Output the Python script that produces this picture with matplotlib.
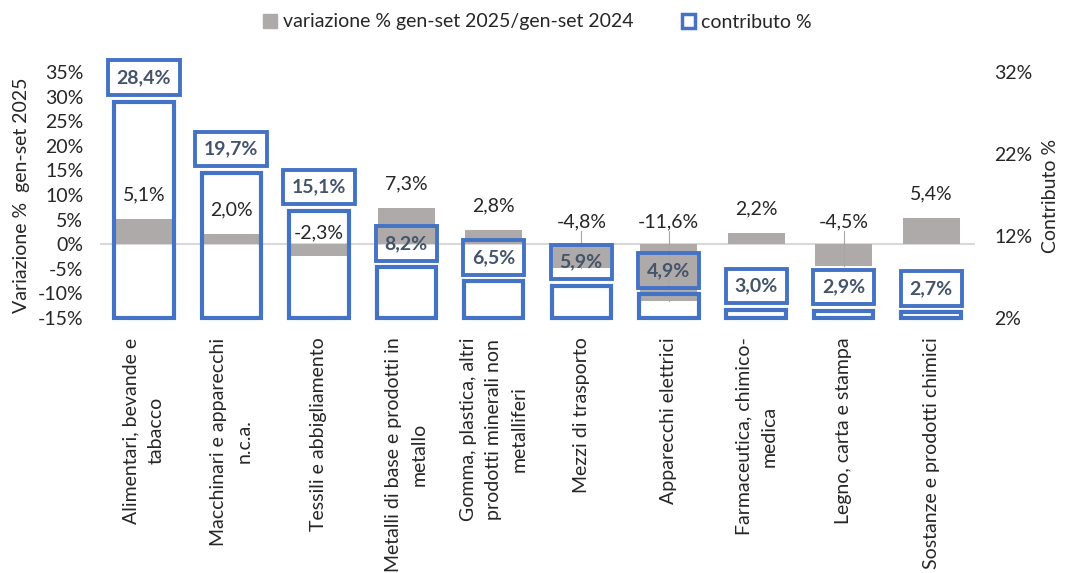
import matplotlib
matplotlib.use("Agg")
import matplotlib.pyplot as plt
from matplotlib.patches import Patch
import numpy as np

categories = [
    "Alimentari, bevande e\ntabacco",
    "Macchinari e apparecchi\nn.c.a.",
    "Tessili e abbigliamento",
    "Metalli di base e prodotti in\nmetallo",
    "Gomma, plastica, altri\nprodotti minerali non\nmetalliferi",
    "Mezzi di trasporto",
    "Apparecchi elettrici",
    "Farmaceutica, chimico-\nmedica",
    "Legno, carta e stampa",
    "Sostanze e prodotti chimici",
]
variazione = [5.1, 2.0, -2.3, 7.3, 2.8, -4.8, -11.6, 2.2, -4.5, 5.4]
contributo = [28.4, 19.7, 15.1, 8.2, 6.5, 5.9, 4.9, 3.0, 2.9, 2.7]
left_ticks = [-15, -10, -5, 0, 5, 10, 15, 20, 25, 30, 35]
right_ticks = [2, 12, 22, 32]

GRAY = "#AEAAAA"
BLUE = "#4472C4"
LBL = "#44546A"
TXT = "#262626"

plt.rcParams['font.family'] = ['Lato', 'DejaVu Sans']
fs = 14

def fmt(v):
    return f"{v:.1f}".replace(".", ",") + "%"

fig = plt.figure(figsize=(10.75, 5.73), dpi=100)
L, R = 100 / 1075, 975 / 1075
B, T = 1 - 318 / 573, 1 - 72 / 573
ax = fig.add_axes([L, B, R - L, T - B])
ax2 = ax.twinx()

x = np.arange(len(categories))
ax.bar(x, variazione, width=0.65, color=GRAY, zorder=2)
ax.axhline(0, color="#D9D9D9", lw=1.5, zorder=1)
ax.set_ylim(-15, 35)
ax.set_xlim(-0.5, len(categories) - 0.5)
ax.set_yticks(left_ticks)
ax.set_yticklabels([f"{t}%" for t in left_ticks], fontsize=fs, color=TXT)
ax.set_xticks(x)
ax.set_xticklabels(categories, rotation=90, fontsize=fs, color=TXT,
                   ha='center', va='top', multialignment='center', linespacing=1.6)
ax.tick_params(axis='both', length=0)
ax.tick_params(axis='y', pad=12)
ax.tick_params(axis='x', pad=14)
for s in ax.spines.values():
    s.set_visible(False)

# variazione labels
for xi, v in zip(x, variazione):
    if v >= 0:
        ax.text(xi, v + 4.9, fmt(v), ha='center', va='center', fontsize=fs, color=TXT, zorder=5)
    else:
        ly = 4.5 if v < -3 else 2.3
        ax.text(xi, ly, fmt(v), ha='center', va='center', fontsize=fs, color=TXT, zorder=5)
        if v < -3:
            ax.plot([xi, xi], [ly - 1.9, v], color="#A6A6A6", lw=0.8, zorder=3)

# contributo bars (hollow) on right axis
bottom = right_ticks[0]
ax2.bar(x, [c - bottom for c in contributo], bottom=bottom, width=0.68,
        facecolor='none', edgecolor=BLUE, linewidth=3, zorder=3, clip_on=False)
ax2.set_ylim(2, 32)
ax2.set_yticks(right_ticks)
ax2.set_yticklabels([f"{t}%" for t in right_ticks], fontsize=fs, color=TXT)
ax2.tick_params(axis='y', length=0, pad=14)
for s in ax2.spines.values():
    s.set_visible(False)

for xi, c in zip(x, contributo):
    ax2.text(xi, c + 2.9, fmt(c), ha='center', va='center', fontsize=fs,
             fontweight='bold', color=LBL, zorder=6,
             bbox=dict(boxstyle='square,pad=0.45', facecolor='none',
                       edgecolor=BLUE, linewidth=2.8))

fig.text(22 / 1075, 1 - 195 / 573, "Variazione %  gen-set 2025", rotation=90,
         ha='center', va='center', fontsize=fs, color=TXT)
fig.text(1050 / 1075, 1 - 196 / 573, "Contributo %", rotation=90,
         ha='center', va='center', fontsize=fs, color=TXT)

handles = [Patch(facecolor=GRAY, edgecolor=GRAY),
           Patch(facecolor='white', edgecolor=BLUE, linewidth=2.5)]
fig.legend(handles, ["variazione % gen-set 2025/gen-set 2024", "contributo %"],
           loc='center', bbox_to_anchor=(0.5, 1 - 22 / 573), ncol=2, frameon=False,
           fontsize=fs, handlelength=0.7, handleheight=0.7, handletextpad=0.3,
           columnspacing=2.5, labelcolor=TXT)

fig.savefig("out.png", dpi=100)
